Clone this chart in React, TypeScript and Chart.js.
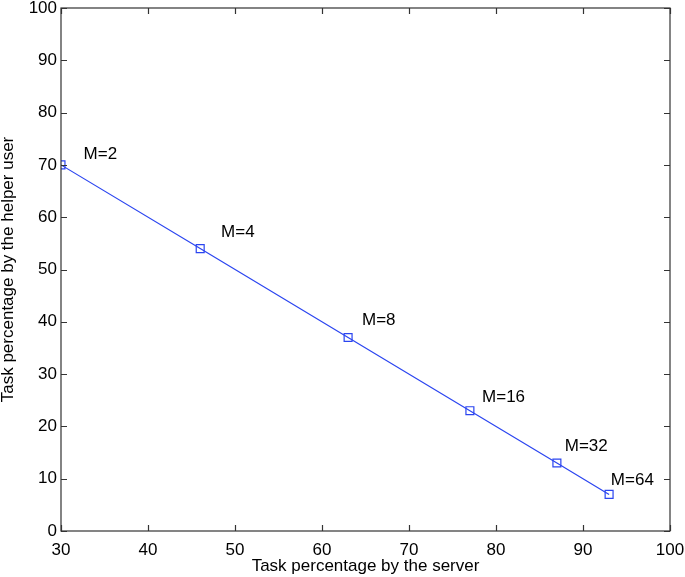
import React, { useEffect, useRef } from "react";
import { Chart, registerables } from "chart.js";

Chart.register(...registerables);

// Data
const serverPct = [30, 46, 63, 77, 87, 93];
const helperPct = [70, 54, 37, 23, 13, 7];
const pointLabels = ["M=2", "M=4", "M=8", "M=16", "M=32", "M=64"];
// label anchor positions (data units)
const labelX = [32.6, 48.4, 64.6, 78.4, 87.9, 93.2];
const labelY = [72.1, 57.1, 40.3, 25.6, 16.2, 9.7];
const xTickValues = [30, 40, 50, 60, 70, 80, 90, 100];
const yTickValues = [0, 10, 20, 30, 40, 50, 60, 70, 80, 90, 100];

const FONT = "'Liberation Sans', Arial, Helvetica, sans-serif";
const BLUE = "#2b45f0";
const FS = 17;

const framePlugin = {
  id: "frameTicks",
  afterDraw(chart: any) {
    const { ctx, chartArea } = chart;
    const xs = chart.scales.x;
    const ys = chart.scales.y;
    const { left, right, top, bottom } = chartArea;
    ctx.save();
    ctx.strokeStyle = "#333";
    ctx.lineWidth = 1.2;
    ctx.strokeRect(left, top, right - left, bottom - top);
    const tl = 6;
    ctx.beginPath();
    xTickValues.forEach((v) => {
      const px = Math.round(xs.getPixelForValue(v)) + 0.5;
      ctx.moveTo(px, bottom);
      ctx.lineTo(px, bottom - tl);
      ctx.moveTo(px, top);
      ctx.lineTo(px, top + tl);
    });
    yTickValues.forEach((v) => {
      const py = Math.round(ys.getPixelForValue(v)) + 0.5;
      ctx.moveTo(left, py);
      ctx.lineTo(left + tl, py);
      ctx.moveTo(right, py);
      ctx.lineTo(right - tl, py);
    });
    ctx.stroke();

    // point labels
    ctx.fillStyle = "#000";
    ctx.font = `${FS}px ${FONT}`;
    ctx.textAlign = "left";
    ctx.textBaseline = "middle";
    pointLabels.forEach((t, i) => {
      ctx.fillText(t, xs.getPixelForValue(labelX[i]), ys.getPixelForValue(labelY[i]));
    });
    ctx.restore();
  },
};

export default function App() {
  const ref = useRef<HTMLCanvasElement>(null);
  useEffect(() => {
    if (!ref.current) return;
    const chart = new Chart(ref.current, {
      type: "line",
      data: {
        datasets: [
          {
            data: serverPct.map((x, i) => ({ x, y: helperPct[i] })),
            borderColor: BLUE,
            borderWidth: 1.2,
            backgroundColor: "rgba(0,0,0,0)",
            pointStyle: "rect",
            pointRadius: 5.6,
            pointBorderWidth: 1.2,
            pointBorderColor: BLUE,
            pointBackgroundColor: "rgba(0,0,0,0)",
            tension: 0,
            fill: false,
          },
        ],
      },
      options: {
        animation: false,
        responsive: false,
        layout: { padding: { top: 8, right: 15, left: 0, bottom: 0 } },
        plugins: { legend: { display: false }, tooltip: { enabled: false } },
        scales: {
          x: {
            type: "linear",
            min: 30,
            max: 100,
            grid: { display: false, drawTicks: false },
            border: { display: false },
            ticks: {
              stepSize: 10,
              color: "#000",
              font: { family: FONT, size: FS },
              padding: 9,
              maxRotation: 0,
            },
            title: {
              display: true,
              text: "Task percentage by the server",
              color: "#000",
              font: { family: FONT, size: FS, lineHeight: 1 },
              padding: { top: 0, bottom: 2 },
            },
            afterFit: (s: any) => {
              s.height = 46;
              s.paddingLeft = 0;
              s.paddingRight = 0;
            },
          },
          y: {
            type: "linear",
            min: 0,
            max: 100,
            grid: { display: false, drawTicks: false },
            border: { display: false },
            ticks: {
              stepSize: 10,
              color: "#000",
              font: { family: FONT, size: FS },
              padding: 4,
            },
            title: {
              display: true,
              text: "Task percentage by the helper user",
              color: "#000",
              font: { family: FONT, size: FS, lineHeight: 1 },
              padding: { top: 0, bottom: 0 },
            },
            afterFit: (s: any) => {
              s.width = 61;
              s.paddingTop = 0;
              s.paddingBottom = 0;
            },
          },
        },
      },
      plugins: [framePlugin],
    });
    return () => chart.destroy();
  }, []);
  return (
    <div style={{ position: "absolute", left: 0, top: 0, width: 685, height: 577, background: "#fff" }}>
      <canvas ref={ref} width={685} height={577} />
    </div>
  );
}
